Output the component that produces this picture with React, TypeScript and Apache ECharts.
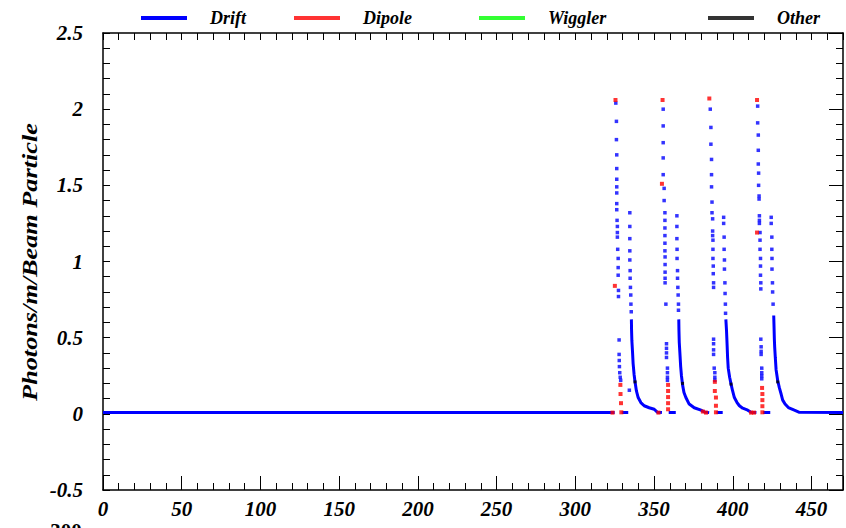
import React, { useEffect, useRef } from "react";
import * as echarts from "echarts";

type P = [number, number] | null;

// ---- data ----
const xTicks = [0, 50, 100, 150, 200, 250, 300, 350, 400, 450];
const yTicks = [-0.5, 0, 0.5, 1, 1.5, 2, 2.5];
const legendNames = ["Drift", "Dipole", "Wiggler", "Other"];

// Drift: continuous parts (baseline and dense decay tails)
const driftBaseline: P[] = [[0, 0.008], [325.0, 0.008], null,
  [329.4, 0.008], [333.6, 0.008], null,
  [359.3, 0.008], [363.8, 0.008], null,
  [389.6, 0.008], [393.6, 0.008], null,
  [419.2, 0.008], [423.8, 0.008], null];
const driftTail1: P[] = [[335.6, 0.62], [335.7, 0.55], [335.9, 0.48], [336.3, 0.41], [336.7, 0.33], [337.3, 0.26], [337.9, 0.21], [338.8, 0.15], [339.9, 0.107], [341.6, 0.074], [343.7, 0.053], [346.9, 0.04], [350.1, 0.03], [352.2, 0.01], [355.0, 0.008], null];
const driftTail2: P[] = [[365.7, 0.62], [365.8, 0.55], [366.0, 0.47], [366.4, 0.40], [366.9, 0.31], [367.4, 0.25], [368.1, 0.19], [369.0, 0.14], [370.2, 0.107], [372.3, 0.064], [375.5, 0.04], [379.8, 0.024], [382.0, 0.012], [385.0, 0.008], null];
const driftTail3: P[] = [[395.6, 0.62], [396.0, 0.55], [396.2, 0.50], [396.4, 0.45], [396.7, 0.37], [397.1, 0.30], [398.0, 0.24], [398.9, 0.195], [399.9, 0.15], [401.0, 0.107], [402.7, 0.074], [404.2, 0.053], [406.3, 0.037], [409.5, 0.024], [411.6, 0.01], [415.0, 0.008], null];
const driftTail4: P[] = [[426.0, 0.645], [426.2, 0.57], [426.4, 0.49], [426.6, 0.44], [427.0, 0.37], [427.5, 0.29], [428.5, 0.22], [429.6, 0.17], [430.7, 0.13], [431.7, 0.09], [433.2, 0.064], [435.3, 0.041], [439.1, 0.024], [442.3, 0.01], [470, 0.008]];

// Drift: sparse points (steep columns)
const driftPeak1: [number, number][] = [[325.7, 2.04], [326.1, 1.92], [326.1, 1.80], [326.3, 1.70], [326.3, 1.61], [326.3, 1.54], [326.3, 1.49], [326.3, 1.45], [326.3, 1.38], [326.3, 1.34], [326.5, 1.27], [326.7, 1.23], [326.7, 1.19], [326.7, 1.16], [326.9, 1.08], [327.2, 1.02], [327.2, 0.96], [327.2, 0.91], [327.4, 0.81], [327.4, 0.77],
  [327.8, 0.485], [327.8, 0.39], [327.9, 0.35], [328.0, 0.31], [328.2, 0.27], [328.5, 0.24], [328.8, 0.22], [334.3, 0.155],
  [334.6, 1.32], [334.6, 1.23], [334.6, 1.15], [334.6, 1.07], [334.6, 1.01], [334.8, 0.94], [334.8, 0.89], [335.0, 0.83], [335.2, 0.78], [335.3, 0.72], [335.5, 0.67]];
const driftPeak2: [number, number][] = [[355.8, 2.0], [355.8, 1.89], [355.8, 1.78], [355.8, 1.68], [355.8, 1.57], [356.4, 1.48], [356.4, 1.40], [356.9, 1.32], [356.9, 1.27], [356.9, 1.22], [356.9, 1.17], [356.9, 1.12], [356.9, 1.07], [357.0, 1.03], [357.0, 0.98], [357.0, 0.93], [357.0, 0.89], [357.0, 0.86], [357.5, 0.72],
  [357.9, 0.46], [357.9, 0.43], [357.9, 0.40], [357.9, 0.37], [358.5, 0.30], [358.5, 0.27], [358.5, 0.24], [358.5, 0.22],
  [364.5, 1.30], [364.5, 1.23], [364.5, 1.15], [364.6, 1.08], [364.6, 1.02], [364.9, 0.94], [364.9, 0.89], [365.1, 0.83], [365.3, 0.78], [365.5, 0.72], [365.5, 0.68]];
const driftPeak3: [number, number][] = [[385.7, 2.0], [386.1, 1.88], [386.1, 1.77], [386.5, 1.67], [386.5, 1.57], [386.5, 1.49], [386.8, 1.39], [386.8, 1.32], [387.2, 1.28], [387.2, 1.20], [387.2, 1.17], [387.4, 1.14], [387.4, 1.08], [387.4, 1.02], [387.6, 0.97], [387.6, 0.92], [387.8, 0.86], [387.8, 0.83],
  [387.8, 0.49], [387.8, 0.46], [387.8, 0.42], [387.8, 0.39], [388.2, 0.30], [388.6, 0.27], [388.6, 0.24], [388.6, 0.22],
  [394.2, 1.29], [394.2, 1.25], [394.5, 1.16], [394.5, 1.08], [394.7, 1.01], [394.7, 0.95], [395.0, 0.86], [395.1, 0.79], [395.3, 0.72], [395.4, 0.66]];
const driftPeak4: [number, number][] = [[415.8, 2.02], [415.8, 1.91], [416.2, 1.83], [416.2, 1.73], [416.2, 1.64], [416.4, 1.58], [416.4, 1.50], [416.7, 1.43], [416.7, 1.41], [416.9, 1.30], [416.9, 1.27], [416.9, 1.25], [417.3, 1.19], [417.3, 1.14], [417.3, 1.08], [417.6, 1.02], [417.6, 0.97], [417.6, 0.91], [417.8, 0.86], [417.8, 0.82],
  [417.8, 0.49], [418.0, 0.44], [418.0, 0.41], [418.0, 0.39], [418.4, 0.30], [418.4, 0.27], [418.4, 0.25], [418.4, 0.23],
  [424.4, 1.29], [424.4, 1.25], [424.8, 1.16], [424.8, 1.08], [424.9, 1.02], [424.9, 0.95], [425.2, 0.86], [425.3, 0.80], [425.6, 0.72]];

const dipolePoints: [number, number][] = [
  [323.6, 0.008], [325.5, 2.06], [325.1, 0.84], [328.6, 0.19], [328.7, 0.13], [329.0, 0.07], [329.2, 0.01],
  [352.8, 0.008], [355.4, 2.06], [355.0, 1.51], [358.9, 0.19], [358.9, 0.15], [358.9, 0.11], [358.9, 0.07], [358.9, 0.03],
  [381.0, 0.015], [383.0, 0.008], [385.1, 2.07], [388.6, 0.21], [388.6, 0.15], [389.3, 0.107], [389.3, 0.053], [389.3, 0.01],
  [411.6, 0.008], [413.5, 0.008], [415.4, 2.06], [415.4, 1.19], [418.6, 0.17], [418.8, 0.13], [418.8, 0.09], [418.8, 0.05], [418.8, 0.01]];
const wigglerPoints: [number, number][] = [];
const otherPoints: [number, number][] = [[337.9, 0.21], [368.1, 0.2], [398.9, 0.195], [428.5, 0.21]];

const BLUE = "#0000ff";
const RED = "#ff0000";
const GREEN = "#00ff00";
const BLACK = "#000000";
const FONT = "Liberation Serif";

export default function App() {
  const ref = useRef<HTMLDivElement>(null);
  useEffect(() => {
    if (!ref.current) return;
    const chart = echarts.init(ref.current, null, { renderer: "svg" });
    const driftLine = ([] as P[]).concat(driftBaseline, driftTail1, driftTail2, driftTail3, driftTail4);
    const driftDots = ([] as [number, number][]).concat(driftPeak1, driftPeak2, driftPeak3, driftPeak4);
    const colors = [BLUE, RED, GREEN, BLACK];
    const legendLeft = [136, 289, 474, 703];
    const labelStyle = { fontFamily: FONT, fontWeight: "bold" as const, fontStyle: "italic" as const, fontSize: 21, color: "#000" };
    const axisLine = { show: true, onZero: false, lineStyle: { color: "#000", width: 1.5 } };
    chart.setOption({
      animation: false,
      backgroundColor: "#fff",
      legend: legendNames.map((n, i) => ({
        data: [{ name: n, icon: "rect", itemStyle: { color: colors[i] } }],
        left: legendLeft[i],
        top: 4,
        itemWidth: 46,
        itemHeight: 4,
        selectedMode: false,
        textStyle: { fontFamily: FONT, fontWeight: "bold", fontStyle: "italic", fontSize: 18, color: "#000", padding: [0, 0, 0, 18] },
      })),
      grid: { left: 103, right: 3, top: 33, bottom: 38 },
      xAxis: [
        {
          type: "value", min: 0, max: 470, interval: 50, position: "bottom",
          axisLine, splitLine: { show: false },
          axisTick: { show: true, inside: true, length: 14, lineStyle: { color: "#000" } },
          minorTick: { show: true, splitNumber: 5, length: 7, lineStyle: { color: "#000" } },
          axisLabel: { ...labelStyle, margin: 8, showMaxLabel: false, formatter: (v: number) => (xTicks.includes(v) ? String(v) : "") },
        },
        {
          type: "value", min: 0, max: 470, interval: 50, position: "top",
          axisLine, splitLine: { show: false },
          axisTick: { show: true, inside: true, length: 7, lineStyle: { color: "#000" } },
          minorTick: { show: true, splitNumber: 5, length: 7, lineStyle: { color: "#000" } },
          axisLabel: { show: false },
        },
      ],
      yAxis: [
        {
          type: "value", min: -0.5, max: 2.5, interval: 0.5, position: "left",
          axisLine, splitLine: { show: false },
          axisTick: { show: true, inside: true, length: 7, lineStyle: { color: "#000" } },
          minorTick: { show: true, splitNumber: 5, length: 7, lineStyle: { color: "#000" } },
          axisLabel: { ...labelStyle, margin: 20, formatter: (v: number) => (yTicks.includes(v) ? String(v) : "") },
        },
        {
          type: "value", min: -0.5, max: 2.5, interval: 0.5, position: "right",
          axisLine, splitLine: { show: false },
          axisTick: { show: true, inside: true, length: 14, lineStyle: { color: "#000" } },
          minorTick: { show: true, splitNumber: 5, length: 7, lineStyle: { color: "#000" } },
          axisLabel: { show: false },
        },
      ],
      graphic: [
        {
          type: "text", x: 30, y: 262, rotation: Math.PI / 2, scaleX: 1.25,
          style: { text: "Photons/m/Beam Particle", font: `italic bold 21px "${FONT}"`, fill: "#000", align: "center", verticalAlign: "middle", textAlign: "center", textVerticalAlign: "middle" },
        },
        {
          type: "text", x: 66, y: 520,
          style: { text: "300", font: `bold 21px "${FONT}"`, fill: "#000", align: "center", verticalAlign: "top", textAlign: "center", textVerticalAlign: "top" },
        },
      ],
      series: [
        { name: "Drift", type: "line", data: driftLine, showSymbol: false, connectNulls: false, lineStyle: { color: BLUE, width: 3 }, itemStyle: { color: BLUE }, z: 2 },
        { name: "Drift", type: "scatter", data: driftDots, symbol: "rect", symbolSize: 3.5, itemStyle: { color: BLUE }, z: 3 },
        { name: "Dipole", type: "scatter", data: dipolePoints, symbol: "rect", symbolSize: [4, 4], itemStyle: { color: RED }, z: 4 },
        { name: "Wiggler", type: "scatter", data: wigglerPoints, symbol: "rect", symbolSize: 3.5, itemStyle: { color: GREEN }, z: 4 },
        { name: "Other", type: "scatter", data: otherPoints, symbol: "rect", symbolSize: 3, itemStyle: { color: BLACK }, z: 5 },
      ],
    });
    return () => chart.dispose();
  }, []);
  return <div ref={ref} style={{ width: 846, height: 528, position: "absolute", left: 0, top: 0 }} />;
}
